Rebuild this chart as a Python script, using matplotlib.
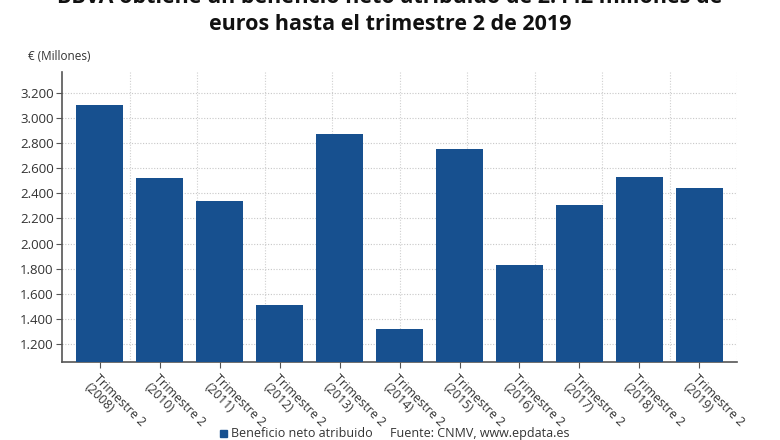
import matplotlib
matplotlib.use("Agg")
import matplotlib.pyplot as plt
from matplotlib.ticker import FuncFormatter
from matplotlib.patches import Rectangle

plt.rcParams['font.family'] = ['Open Sans', 'DejaVu Sans']

categories = ["Trimestre 2\n(2008)", "Trimestre 2\n(2010)", "Trimestre 2\n(2011)",
              "Trimestre 2\n(2012)", "Trimestre 2\n(2013)", "Trimestre 2\n(2014)",
              "Trimestre 2\n(2015)", "Trimestre 2\n(2016)", "Trimestre 2\n(2017)",
              "Trimestre 2\n(2018)", "Trimestre 2\n(2019)"]
values = [3102, 2523, 2337, 1508, 2876, 1323, 2751, 1830, 2305, 2531, 2442]
yticks = [1200, 1400, 1600, 1800, 2000, 2200, 2400, 2600, 2800, 3000, 3200]

title_line1 = "BBVA obtiene un beneficio neto atribuido de 2.442 millones de"
title_line2 = "euros hasta el trimestre 2 de 2019"
unit_label = "€ (Millones)"
legend_label = "Beneficio neto atribuido"
source = "Fuente: CNMV, www.epdata.es"

bar_color = "#17508f"
text_color = "#333333"

fig = plt.figure(figsize=(7.8, 4.4), dpi=100)
fig.patch.set_facecolor("white")
ax = fig.add_axes([0.0795, 0.1773, 0.8655, 0.6591])

x = list(range(len(values)))
ax.bar(x, values, width=0.79, color=bar_color, zorder=3)

ax.set_xlim(-0.63, len(values) - 1 + 0.63)
ax.set_ylim(1057, 3367)
ax.set_yticks(yticks)
ax.yaxis.set_major_formatter(FuncFormatter(lambda v, p: f"{int(v):,}".replace(",", ".")))
ax.set_xticks(x)
ax.set_xticklabels(categories, rotation=-45, ha="left", va="top",
                   rotation_mode="anchor", fontsize=9, color=text_color,
                   linespacing=1.0)

ax.grid(axis="y", color="#c8c8c8", linestyle=(0, (1, 1.5)), linewidth=0.8, zorder=0)
for k in range(1, 11):
    ax.plot([k / 10, k / 10], [0, 1], transform=ax.transAxes, color="#d0d0d0",
            linestyle=(0, (1, 1.5)), linewidth=0.8, zorder=0)

for s in ["top", "right"]:
    ax.spines[s].set_visible(False)
ax.spines["left"].set_color("#555555")
ax.spines["left"].set_linestyle((0, (1, 1)))
ax.spines["left"].set_linewidth(1.2)
ax.spines["bottom"].set_color("#555555")
ax.spines["bottom"].set_linewidth(1.2)

ax.tick_params(axis="y", length=4, width=0.8, color="#555555", labelsize=9.5,
               labelcolor=text_color, pad=2)
ax.tick_params(axis="x", length=4, width=0.8, color="#555555", pad=3)

fig.text(0.5, 1.0 - (-2) / 440, title_line1, ha="center", va="center", fontsize=15.5,
         fontweight="bold", color="#111111")
fig.text(0.5, 1.0 - 25 / 440, title_line2, ha="center", va="center", fontsize=15.5,
         fontweight="bold", color="#111111")
fig.text(28 / 780, 1 - 57 / 440, unit_label, ha="left", va="center",
         fontsize=8.5, color=text_color)

fig.patches.append(Rectangle((220 / 780, 1 - 437 / 440), 7 / 780, 7 / 440,
                             transform=fig.transFigure, color=bar_color))
fig.text(231 / 780, 1 - 433 / 440, legend_label, ha="left", va="center",
         fontsize=9, color=text_color)
fig.text(390 / 780, 1 - 433 / 440, source, ha="left", va="center",
         fontsize=9, color=text_color)

fig.savefig("out.png", dpi=100, facecolor="white")
